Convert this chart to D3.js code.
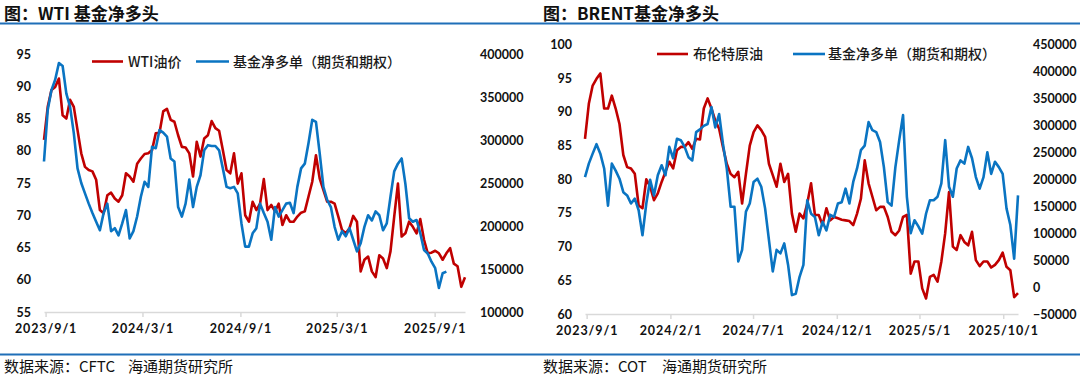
<!DOCTYPE html>
<html><head><meta charset="utf-8">
<script src="https://cdn.jsdelivr.net/npm/d3@7"></script>
<style>
body{margin:0;background:#fff;}
svg{display:block;font-family:"Noto Sans CJK SC","Noto Sans",sans-serif;}
</style></head><body>
<svg id="c" width="1080" height="381"></svg>
<script>
const weekDates = [
"2023-08-29","2023-09-05","2023-09-12","2023-09-19","2023-09-26","2023-10-03","2023-10-10","2023-10-17","2023-10-24","2023-10-31","2023-11-07","2023-11-14","2023-11-21","2023-11-28","2023-12-05","2023-12-12","2023-12-19","2023-12-26",
"2024-01-02","2024-01-09","2024-01-16","2024-01-23","2024-01-30","2024-02-06","2024-02-13","2024-02-20","2024-02-27","2024-03-05","2024-03-12","2024-03-19","2024-03-26","2024-04-02","2024-04-09","2024-04-16","2024-04-23","2024-04-30","2024-05-07","2024-05-14","2024-05-21","2024-05-28","2024-06-04","2024-06-11","2024-06-18","2024-06-25","2024-07-02","2024-07-09","2024-07-16","2024-07-23","2024-07-30","2024-08-06","2024-08-13","2024-08-20","2024-08-27","2024-09-03","2024-09-10","2024-09-17","2024-09-24","2024-10-01","2024-10-08","2024-10-15","2024-10-22","2024-10-29","2024-11-05","2024-11-12","2024-11-19","2024-11-26","2024-12-03","2024-12-10","2024-12-17","2024-12-24","2024-12-31",
"2025-01-07","2025-01-14","2025-01-21","2025-01-28","2025-02-04","2025-02-11","2025-02-18","2025-02-25","2025-03-04","2025-03-11","2025-03-18","2025-03-25","2025-04-01","2025-04-08","2025-04-15","2025-04-22","2025-04-29","2025-05-06","2025-05-13","2025-05-20","2025-05-27","2025-06-03","2025-06-10","2025-06-17","2025-06-24","2025-07-01","2025-07-08","2025-07-15","2025-07-22","2025-07-29","2025-08-05","2025-08-12","2025-08-19","2025-08-26","2025-09-02","2025-09-09","2025-09-16","2025-09-23","2025-09-30","2025-10-07","2025-10-14","2025-10-21","2025-10-28"];

const wtiPrice = [
81.7,86.8,89.4,89.9,91.2,85.5,85.0,87.9,86.8,83.2,
79.6,77.5,77.0,76.8,75.5,70.8,70.3,73.1,73.5,72.6,
72.1,73.1,76.5,76.0,75.2,78.0,78.8,79.5,79.6,80.1,
82.7,82.8,86.1,86.5,84.8,84.5,82.4,80.6,80.5,79.6,
76.0,81.4,79.1,81.9,82.4,84.6,83.5,83.1,80.1,77.0,
76.5,79.6,74.9,76.5,70.0,69.0,72.1,70.8,71.8,75.6,
70.8,71.6,70.6,71.8,68.5,70.0,69.0,69.0,69.8,70.4,
70.6,72.9,75.2,79.3,75.7,73.9,72.1,72.1,71.8,69.8,
67.7,67.2,68.0,69.9,69.0,61.3,63.1,63.6,61.3,60.4,
63.8,63.3,61.8,64.4,69.8,74.9,66.7,67.2,69.0,68.2,
67.2,69.4,66.2,64.1,64.2,64.5,64.1,63.1,64.1,64.9,
62.5,62.1,58.9,60.4];

const wtiNetLong = [
275000,335000,358000,370000,389500,386000,354000,338500,308000,267000,
250000,238000,226000,215000,205000,195000,215000,226000,194000,197500,
189000,203000,218500,185500,194000,211000,234000,251500,245500,292000,
290500,311500,308500,304000,278500,275000,222000,211000,226000,254000,
222000,245500,259000,288000,294000,293000,293000,288000,267000,245500,
244000,245500,238000,203000,176000,176000,191500,197500,226000,215000,
205000,184000,222000,211000,218500,226000,227000,215000,245500,267000,
272500,296500,323500,321000,284500,245500,230500,222000,199000,184000,
194000,188000,197500,184000,170500,180000,199000,212500,206500,217000,
212500,195000,203000,234000,263500,272500,278500,249000,209000,205000,
207000,191500,172000,168000,158500,151000,128000,145000,147000,
null,null,null,null,null];

const brentPrice = [
86.0,91.2,93.9,94.9,95.7,90.5,90.5,92.4,90.5,88.2,
83.6,81.8,81.6,80.8,76.1,75.7,80.0,78.9,76.9,77.9,
79.6,81.1,82.6,81.6,84.3,84.8,84.8,85.5,84.5,86.0,
85.9,90.5,92.0,90.5,88.7,87.5,84.8,82.3,80.8,80.3,
81.1,76.4,80.8,85.0,87.0,88.0,87.3,86.3,82.3,80.6,
78.9,82.3,79.6,80.8,74.9,72.2,74.9,74.2,76.4,79.4,
74.7,74.7,73.2,75.7,73.9,74.4,74.2,74.0,73.9,73.8,
73.2,74.9,77.1,82.8,79.4,77.4,75.4,75.9,75.9,74.4,
72.2,71.7,72.4,74.4,74.7,66.0,67.8,67.8,63.8,62.3,
65.5,65.8,64.8,67.8,72.0,78.1,70.0,69.5,71.7,70.7,
70.2,72.2,68.0,67.1,67.8,67.8,66.9,67.3,68.0,69.1,
67.0,66.5,62.5,63.1];

const brentNetLong = [
204000,229000,247500,265000,247500,220000,151000,229000,216000,201000,
176000,170000,155000,164000,142500,96000,155000,199000,170000,207500,
226000,207500,260000,239000,275000,272500,260000,241000,235000,287500,
292500,299000,302500,334000,296000,321000,266000,220000,149000,149000,
47500,69000,140000,155000,195000,201000,186000,146000,87500,29000,
69000,62500,81000,41000,-15000,-12500,19000,41000,161000,136000,
130000,96000,121000,105000,134000,130000,155000,157500,182500,155000,
195000,220000,254000,262500,306000,291000,287500,269000,222500,157500,
151000,222500,272500,319000,167500,100000,124000,112500,99000,136000,
161000,161000,167500,192500,272500,186000,167500,220000,235000,229000,
260000,239000,204000,182500,204000,250000,210000,232500,222500,210000,
146000,115000,52500,170000];

const wtiDateTicks = ["2023-09-01","2024-03-01","2024-09-01","2025-03-01","2025-09-01"];
const brentDateTicks = ["2023-09-01","2024-02-01","2024-07-01","2024-12-01","2025-05-01","2025-10-01"];
const wtiPriceTicks = [55,60,65,70,75,80,85,90,95];
const wtiPosTicks = [100000,150000,200000,250000,300000,350000,400000];
const brentPriceTicks = [60,65,70,75,80,85,90,95,100];
const brentPosTicks = [-50000,0,50000,100000,150000,200000,250000,300000,350000,400000,450000];

const RED = "#C00000", BLUE = "#0A74C2", RULE = "#1F6FB8";
const parse = d3.timeParse("%Y-%m-%d");
const fmtDate = d3.timeFormat("%Y/%-m/%-d");
const svg = d3.select("#c");

svg.append("line").attr("x1",0).attr("x2",1080).attr("y1",23.5).attr("y2",23.5)
  .attr("stroke",RULE).attr("stroke-width",2);
svg.append("line").attr("x1",0).attr("x2",1080).attr("y1",354.5).attr("y2",354.5)
  .attr("stroke",RULE).attr("stroke-width",2);

function panel(cfg){
  const g = svg.append("g");
  g.append("text").attr("x",cfg.titleX).attr("y",20).attr("font-size",17).attr("font-weight","bold")
    .attr("fill","#111").text(cfg.title);
  g.append("text").attr("x",cfg.titleX).attr("y",372).attr("font-size",15).attr("fill","#111").text(cfg.source);
  g.append("text").attr("x",cfg.instX).attr("y",372).attr("font-size",15).attr("fill","#111").text("海通期货研究所");

  const dates = weekDates.map(parse);
  const x = d3.scaleTime().domain([dates[0], dates[dates.length-1]]).range([cfg.x0, cfg.x1]);
  const yL = d3.scaleLinear().domain(cfg.lDomain).range([cfg.yBot, cfg.yTop]);
  const yR = d3.scaleLinear().domain(cfg.rDomain).range([cfg.yBot, cfg.yTop]);

  const xa = d3.axisBottom(x).tickValues(cfg.dateTicks.map(parse)).tickFormat(fmtDate)
    .tickSizeInner(5).tickSizeOuter(0).tickPadding(7);
  const gx = g.append("g").attr("transform",`translate(0,${cfg.yBot})`).call(xa);
  gx.select(".domain").attr("stroke","#d9d9d9").attr("stroke-width",1.5);
  gx.selectAll(".tick line").attr("stroke","#d9d9d9").attr("stroke-width",1.5);
  gx.selectAll(".tick text").attr("font-family","Lato, 'Liberation Sans', sans-serif")
    .attr("font-weight","bold").attr("font-size",12.5).attr("fill","#111")
    .attr("letter-spacing","0.9px");

  const la = d3.axisLeft(yL).tickValues(cfg.lTicks).tickSize(0).tickPadding(0);
  const gl = g.append("g").attr("transform",`translate(${cfg.lLabelX},0)`).call(la);
  gl.select(".domain").remove();
  gl.selectAll(".tick text").attr("font-family","Lato, 'Liberation Sans', sans-serif")
    .attr("font-weight","bold").attr("font-size",12.5).attr("fill","#111");

  const ra = d3.axisRight(yR).tickValues(cfg.rTicks).tickSize(0).tickPadding(0).tickFormat(d3.format("d"));
  const gr = g.append("g").attr("transform",`translate(${cfg.rLabelX},0)`).call(ra);
  gr.select(".domain").remove();
  gr.selectAll(".tick text").attr("font-family","Lato, 'Liberation Sans', sans-serif")
    .attr("font-weight","bold").attr("font-size",12.5).attr("fill","#111");

  const lineL = d3.line().defined(d=>d[1]!=null).x(d=>x(d[0])).y(d=>yL(d[1]));
  const lineR = d3.line().defined(d=>d[1]!=null).x(d=>x(d[0])).y(d=>yR(d[1]));
  g.append("path").datum(dates.map((d,i)=>[d,cfg.price[i]])).attr("d",lineL)
    .attr("fill","none").attr("stroke",RED).attr("stroke-width",2.6).attr("stroke-linejoin","round");
  g.append("path").datum(dates.map((d,i)=>[d,cfg.pos[i]])).attr("d",lineR)
    .attr("fill","none").attr("stroke",BLUE).attr("stroke-width",2.6).attr("stroke-linejoin","round");

  const lg = g.append("g");
  const ly = cfg.legY;
  lg.append("line").attr("x1",cfg.leg[0]).attr("x2",cfg.leg[1]).attr("y1",ly).attr("y2",ly)
    .attr("stroke",RED).attr("stroke-width",2.6);
  lg.append("text").attr("x",cfg.leg[2]).attr("y",ly).attr("dy","0.36em").attr("font-size",14)
    .attr("font-weight",500).attr("fill","#1a1a1a").text(cfg.priceName);
  lg.append("line").attr("x1",cfg.leg[3]).attr("x2",cfg.leg[4]).attr("y1",ly).attr("y2",ly)
    .attr("stroke",BLUE).attr("stroke-width",2.6);
  lg.append("text").attr("x",cfg.leg[5]).attr("y",ly).attr("dy","0.36em").attr("font-size",14)
    .attr("font-weight",500).attr("fill","#1a1a1a").text("基金净多单（期货和期权）");
}

panel({
  title:"图：WTI 基金净多头", titleX:4, source:"数据来源：CFTC", instX:128,
  x0:44, x1:465, yTop:54, yBot:312,
  lDomain:[55,95], rDomain:[100000,400000],
  lTicks:wtiPriceTicks, rTicks:wtiPosTicks, dateTicks:wtiDateTicks,
  lLabelX:31, rLabelX:480,
  price:wtiPrice, pos:wtiNetLong, priceName:"WTI油价",
  legY:61.5, leg:[92,123,128,196,229,233]
});
panel({
  title:"图：BRENT基金净多头", titleX:543, source:"数据来源：COT", instX:662,
  x0:585, x1:1018, yTop:44.5, yBot:314,
  lDomain:[60,100], rDomain:[-50000,450000],
  lTicks:brentPriceTicks, rTicks:brentPosTicks, dateTicks:brentDateTicks,
  lLabelX:572, rLabelX:1033,
  price:brentPrice, pos:brentNetLong, priceName:"布伦特原油",
  legY:54, leg:[657,688,693,793,825,828]
});
</script>
</body></html>
